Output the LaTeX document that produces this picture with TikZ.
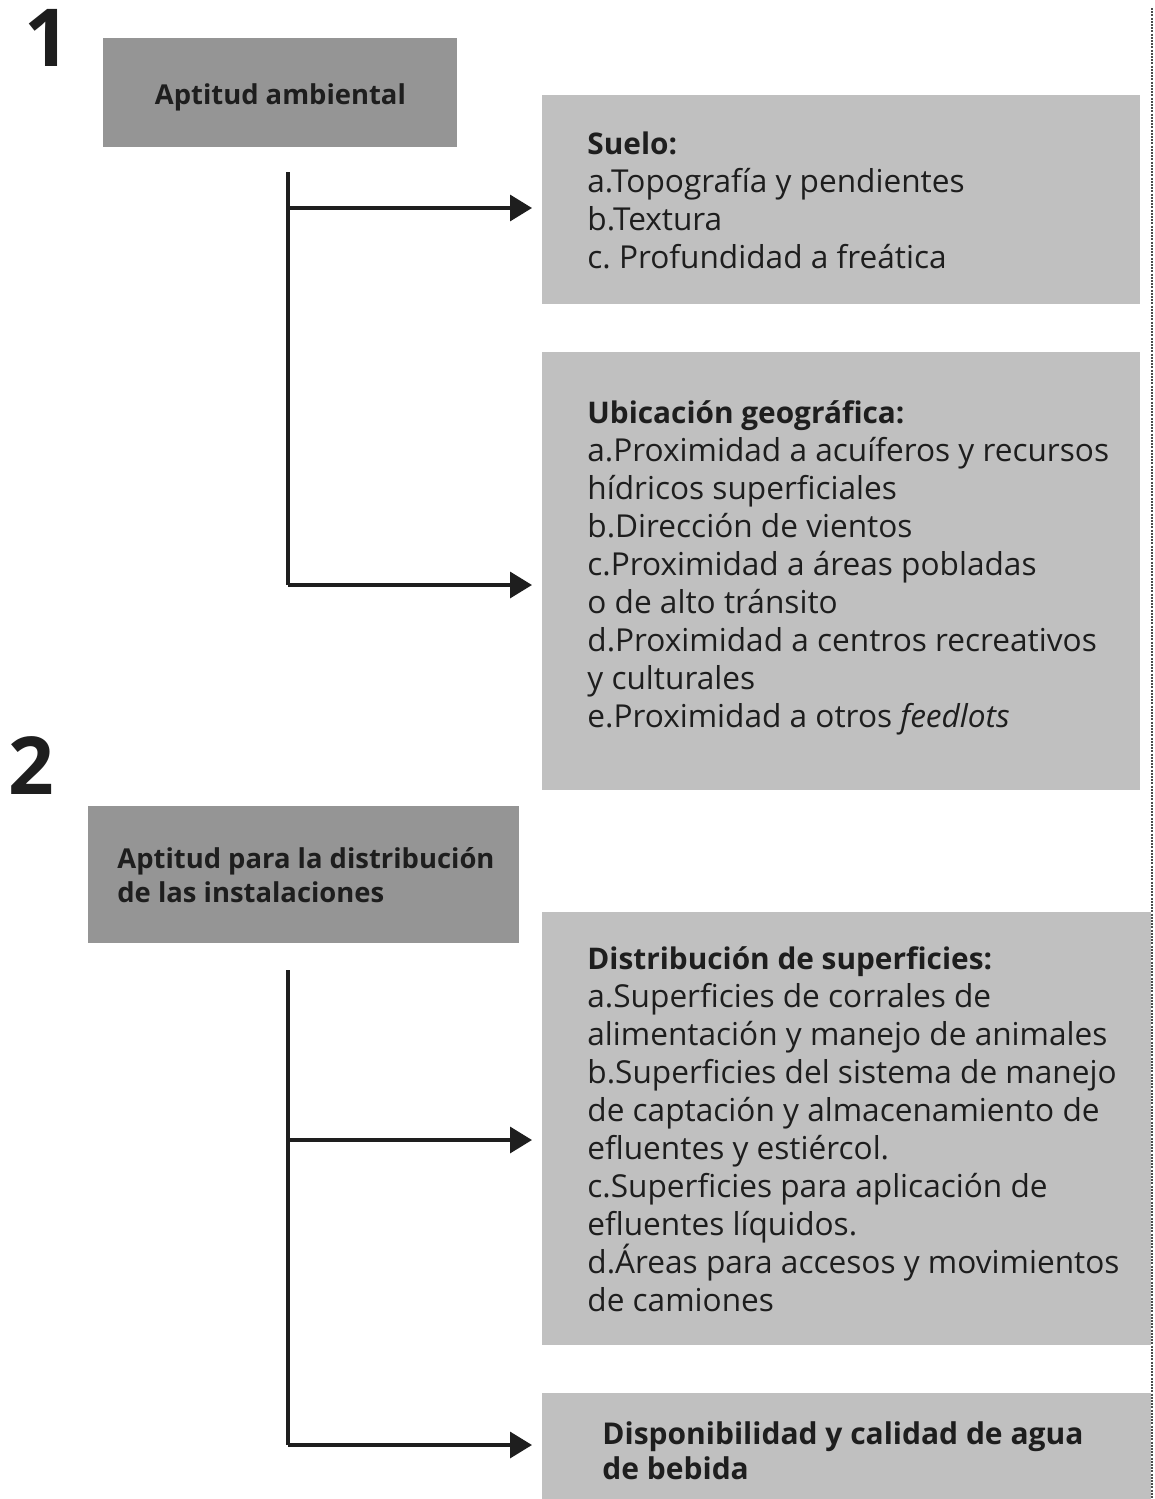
\documentclass[tikz,border=0pt]{standalone}
\usepackage{fontspec}
\setmainfont{Open Sans}
\usetikzlibrary{arrows.meta,calc}
\definecolor{darkbox}{HTML}{959595}
\definecolor{lightbox}{HTML}{C0C0C0}
\definecolor{ink}{HTML}{1E1E1E}
\newcommand{\hdr}[1]{{\bfseries\fontsize{14.9}{19}\selectfont #1}}
\frenchspacing
\begin{document}
\begin{tikzpicture}[x=0.5pt,y=-0.5pt,
  darkbg/.style={fill=darkbox,draw=none,inner sep=0pt,anchor=north west},
  lightbg/.style={fill=lightbox,draw=none,inner sep=0pt,anchor=north west},
  body/.style={text=ink,inner sep=0pt,align=left,anchor=west,font=\fontsize{15.8}{19}\selectfont},
  headtxt/.style={text=ink,inner sep=0pt,align=left,font=\bfseries\fontsize{13.7}{17}\selectfont},
  disptxt/.style={text=ink,inner sep=0pt,align=left,font=\bfseries\fontsize{15}{17.5}\selectfont},
  digit/.style={text=ink,inner sep=0pt,anchor=base west,font=\bfseries\fontsize{40}{40}\selectfont},
  trunk/.style={draw=ink,line width=1.7pt},
  arr/.style={draw=ink,line width=1.7pt,-{Triangle[length=11pt,width=13pt]}},
  dashline/.style={draw=black!70,line width=1pt,dash pattern=on 1pt off 0.6pt}
]
\useasboundingbox (0,0) rectangle (1155,1499);

% right dashed rule
\coordinate (dtop) at (1152,8);
\coordinate (dbot) at (1152,1499);
\draw[dashline] (dtop) -- (dbot);

% section 1
\node[digit] (n1) at (24,66) {1};
\node[darkbg,minimum width=177pt,minimum height=54.5pt] (b1) at (103,38) {};
\node[headtxt,anchor=center] (b1t) at ([yshift=-2pt]b1.center) {Aptitud ambiental};

\node[lightbg,minimum width=299pt,minimum height=104.5pt] (suelo) at (542,95) {};
\node[body] (suelot) at ([xshift=22.5pt]suelo.west) {\hdr{Suelo:}\\a.Topografía y pendientes\\b.Textura\\c. Profundidad a freática};

\node[lightbg,minimum width=299pt,minimum height=219pt] (ubic) at (542,352) {};
\node[body] (ubict) at ([xshift=22.5pt,yshift=2pt]ubic.west) {\hdr{Ubicación geográfica:}\\a.Proximidad a acuíferos y recursos\\hídricos superficiales\\b.Dirección de vientos\\c.Proximidad a áreas pobladas\\o de alto tránsito\\d.Proximidad a centros recreativos\\y culturales\\e.Proximidad a otros \emph{feedlots}};

\coordinate (t1a) at (288,172);
\coordinate (t1b) at (288,585);
\coordinate (j1) at (288,208);
\coordinate (e1) at (532,208);
\coordinate (e2) at (532,585);
\draw[trunk] (t1a) -- (t1b);
\draw[arr] (j1) -- (e1);
\draw[arr] (t1b) -- (e2);

% section 2
\node[digit] (n2) at (8,794) {2};
\node[darkbg,minimum width=215.5pt,minimum height=68.5pt] (b2) at (88,806) {};
\node[headtxt,anchor=west] (b2t) at ([xshift=14.5pt]b2.west) {Aptitud para la distribución\\de las instalaciones};

\node[lightbg,minimum width=304.5pt,minimum height=216.5pt] (distr) at (542,912) {};
\node[body] (distrt) at ([xshift=22.5pt]distr.west) {\hdr{Distribución de superficies:}\\a.Superficies de corrales de\\alimentación y manejo de animales\\b.Superficies del sistema de manejo\\de captación y almacenamiento de\\efluentes y estiércol.\\c.Superficies para aplicación de\\efluentes líquidos.\\d.Áreas para accesos y movimientos\\de camiones};

\node[lightbg,minimum width=304.5pt,minimum height=53pt] (disp) at (542,1393) {};
\node[disptxt,anchor=west] (dispt) at ([xshift=30pt,yshift=-2pt]disp.west) {Disponibilidad y calidad de agua\\de bebida};

\coordinate (t2a) at (288,970);
\coordinate (t2b) at (288,1445);
\coordinate (j2) at (288,1140);
\coordinate (e3) at (532,1140);
\coordinate (e4) at (532,1445);
\draw[trunk] (t2a) -- (t2b);
\draw[arr] (j2) -- (e3);
\draw[arr] (t2b) -- (e4);
\end{tikzpicture}
\end{document}
